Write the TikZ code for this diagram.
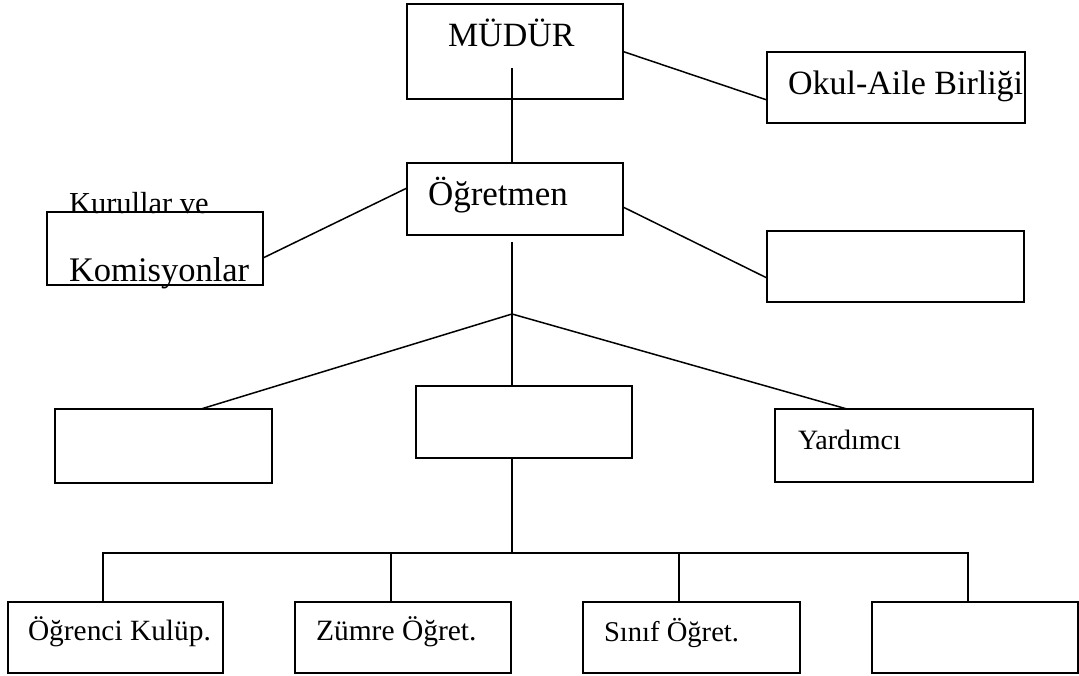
\documentclass[tikz,border=0pt]{standalone}
\usepackage{fontspec}
\setmainfont{Liberation Serif}
\begin{document}
\begin{tikzpicture}[x=1pt,y=-1pt,
  boxnode/.style={draw,line width=1.6pt,rectangle,inner sep=0pt,outer sep=0pt},
  conn/.style={line width=1.5pt},
  txt/.style={anchor=base west,inner sep=0pt,outer sep=0pt}]
\useasboundingbox (0,0) rectangle (1079,676);
% boxes (center, width, height)
\node[boxnode,minimum width=216pt,minimum height=95pt] (mudur) at (515,51.5) {};
\node[boxnode,minimum width=258pt,minimum height=71pt] (okul) at (896,87.5) {};
\node[boxnode,minimum width=216pt,minimum height=72pt] (ogr) at (515,199) {};
\node[boxnode,minimum width=216pt,minimum height=73pt] (kurul) at (155,248.5) {};
\node[boxnode,minimum width=257pt,minimum height=71pt] (bos) at (895.5,266.5) {};
\node[boxnode,minimum width=217pt,minimum height=74pt] (solorta) at (163.5,446) {};
\node[boxnode,minimum width=216pt,minimum height=72pt] (orta) at (524,422) {};
\node[boxnode,minimum width=258pt,minimum height=73pt] (yard) at (904,445.5) {};
\node[boxnode,minimum width=215pt,minimum height=71pt] (b1) at (115.5,637.5) {};
\node[boxnode,minimum width=216pt,minimum height=71pt] (b2) at (403,637.5) {};
\node[boxnode,minimum width=217pt,minimum height=71pt] (b3) at (691.5,637.5) {};
\node[boxnode,minimum width=206pt,minimum height=71pt] (b4) at (975,637.5) {};
% texts
\node[txt] (tmudur) at (448,47) {\fontsize{34}{40}\selectfont MÜDÜR};
\node[txt] (tokul) at (788,95) {\fontsize{34}{40}\selectfont Okul-Aile Birliği};
\node[txt] (togr) at (428,206) {\fontsize{35}{40}\selectfont Öğretmen};
\node[txt] (tkur1) at (69,214) {\fontsize{30.5}{36}\selectfont Kurullar ve};
\node[txt] (tkur2) at (69,282) {\fontsize{34.5}{40}\selectfont Komisyonlar};
\node[txt] (tyard) at (798,449) {\fontsize{28}{34}\selectfont Yardımcı};
\node[txt] (tb1) at (28,640) {\fontsize{29.4}{34}\selectfont Öğrenci Kulüp.};
\node[txt] (tb2) at (316,640) {\fontsize{29.5}{34}\selectfont Zümre Öğret.};
\node[txt] (tb3) at (604,641) {\fontsize{28.6}{34}\selectfont Sınıf Öğret.};
% coordinates
\coordinate (jun) at (512,314);
\coordinate (bar) at (512,553);
% connectors
\draw[conn] ([xshift=-3pt,yshift=31pt]mudur.south) -- ([xshift=-3pt]ogr.north);
\draw[conn] (mudur.east) -- ([yshift=-12.5pt]okul.west);
\draw[conn] ([yshift=11pt]ogr.west) -- ([yshift=-9.5pt]kurul.east);
\draw[conn] ([yshift=-8pt]ogr.east) -- ([yshift=-11.5pt]bos.west);
\draw[conn] ([xshift=-3pt,yshift=-7pt]ogr.south) -- (jun);
\draw[conn] (jun) -- ([xshift=37.5pt]solorta.north);
\draw[conn] (jun) -- ([xshift=-12pt]orta.north);
\draw[conn] (jun) -- ([xshift=-57pt]yard.north);
\draw[conn] ([xshift=-12pt]orta.south) -- (bar);
\draw[conn] ([xshift=-12.5pt]b1.north) |- (bar) -| ([xshift=-7pt]b4.north);
\draw[conn] ([xshift=-12pt]b2.north) -- ([xshift=-12pt]b2.north |- bar);
\draw[conn] ([xshift=-12.5pt]b3.north) -- ([xshift=-12.5pt]b3.north |- bar);
\end{tikzpicture}
\end{document}
